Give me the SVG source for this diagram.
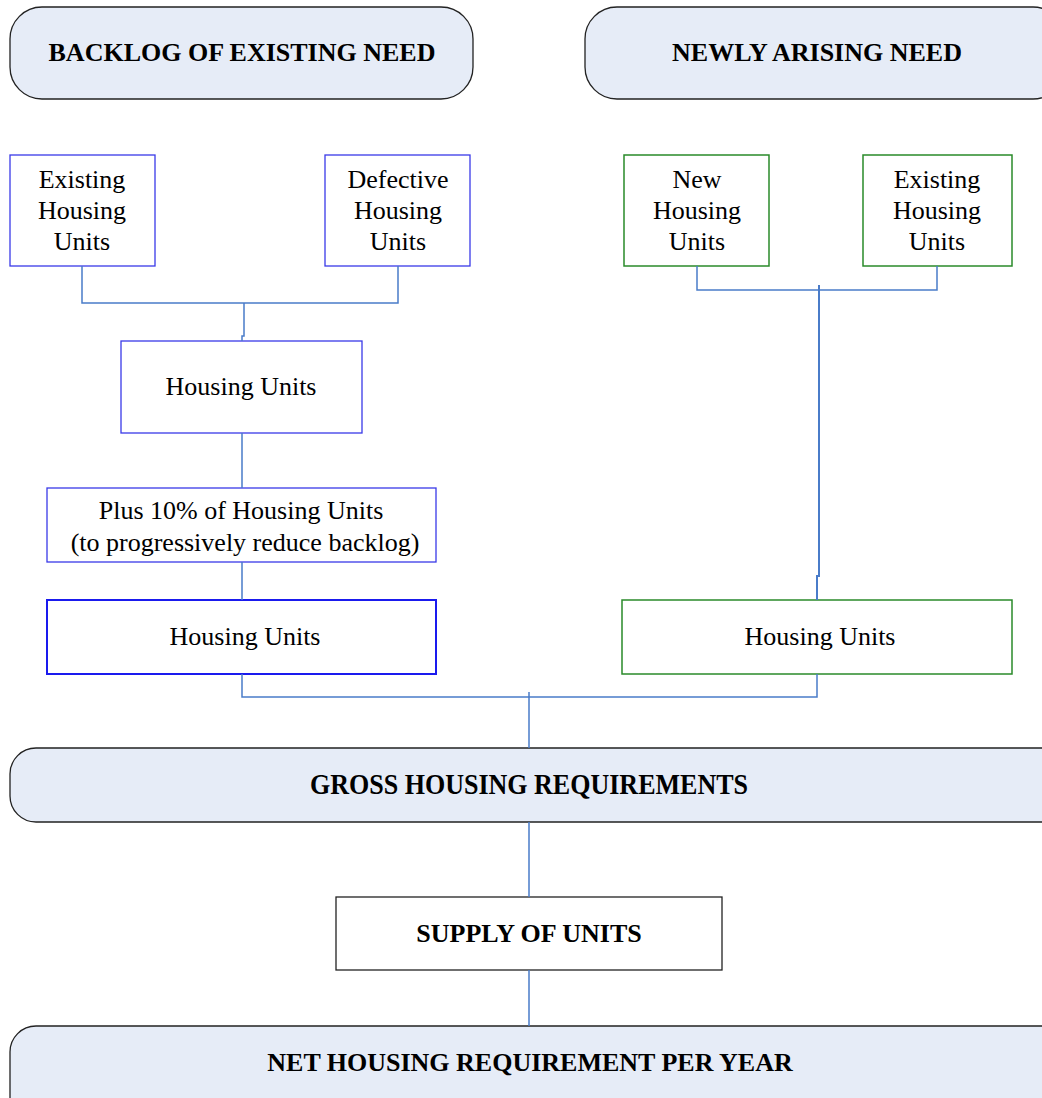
<svg xmlns="http://www.w3.org/2000/svg" width="1042" height="1098" viewBox="0 0 1042 1098">
<style>
.hdr{fill:#e6ecf7;stroke:#222;stroke-width:1.3}
.bl{fill:#fff;stroke:#3a3ae8;stroke-width:1.3}
.bl2{fill:#fff;stroke:#1a1aee;stroke-width:2}
.gr{fill:#fff;stroke:#2a8a2a;stroke-width:1.5}
.dk{fill:#fff;stroke:#222;stroke-width:1.3}
text{font-family:"Liberation Serif","Times New Roman",serif;fill:#000;text-anchor:middle}
.t{font-size:26px}
.b{font-size:26px;font-weight:bold}
.c{fill:none;stroke:#4a7cc9;stroke-width:1.5}
</style>
<g id="backlog"><rect class="hdr" x="10" y="7" width="463" height="92" rx="32"/><text class="b" x="242" y="61">BACKLOG OF EXISTING NEED</text></g>
<g id="newly"><rect class="hdr" x="585" y="7" width="480" height="92" rx="32"/><text class="b" x="817" y="61">NEWLY ARISING NEED</text></g>
<g id="existing1"><rect class="bl" x="10" y="155" width="145" height="111"/><text class="t" x="82" y="188">Existing</text><text class="t" x="82" y="219">Housing</text><text class="t" x="82" y="250">Units</text></g>
<g id="defective"><rect class="bl" x="325" y="155" width="145" height="111"/><text class="t" x="398" y="188">Defective</text><text class="t" x="398" y="219">Housing</text><text class="t" x="398" y="250">Units</text></g>
<g id="units1"><rect class="bl" x="121" y="341" width="241" height="92"/><text class="t" x="241" y="395">Housing Units</text></g>
<g id="plus"><rect class="bl" x="47" y="488" width="389" height="74"/><text class="t" x="241" y="519">Plus 10% of Housing Units</text><text class="t" x="245" y="551">(to progressively reduce backlog)</text></g>
<g id="units2"><rect class="bl2" x="47" y="600" width="389" height="74"/><text class="t" x="245" y="645">Housing Units</text></g>
<g id="new"><rect class="gr" x="624" y="155" width="145" height="111"/><text class="t" x="697" y="188">New</text><text class="t" x="697" y="219">Housing</text><text class="t" x="697" y="250">Units</text></g>
<g id="existing2"><rect class="gr" x="863" y="155" width="149" height="111"/><text class="t" x="937" y="188">Existing</text><text class="t" x="937" y="219">Housing</text><text class="t" x="937" y="250">Units</text></g>
<g id="units3"><rect class="gr" x="622" y="600" width="390" height="74"/><text class="t" x="820" y="645">Housing Units</text></g>
<g id="gross"><rect class="hdr" x="10" y="748" width="1060" height="74" rx="26"/><text class="b" x="529" y="794" style="font-size:29px" textLength="438" lengthAdjust="spacingAndGlyphs">GROSS HOUSING REQUIREMENTS</text></g>
<g id="supply"><rect class="dk" x="336" y="897" width="386" height="73"/><text class="b" x="529" y="942">SUPPLY OF UNITS</text></g>
<g id="net"><rect class="hdr" x="10" y="1026" width="1060" height="100" rx="26"/><text class="b" x="530" y="1071">NET HOUSING REQUIREMENT PER YEAR</text></g>
<g id="connectors">
<path class="c" d="M82 266V303H398V266M244 303V336H242V341"/>
<path class="c" d="M242 433V488M242 562V600"/>
<path class="c" d="M697 266V290H937V266"/>
<path class="c" style="stroke-width:2" d="M819 285V576H817V600"/>
<path class="c" d="M242 674V697H817V674M529 692V748"/>
<path class="c" d="M529 822V897M529 970V1026"/>
</g>
</svg>
